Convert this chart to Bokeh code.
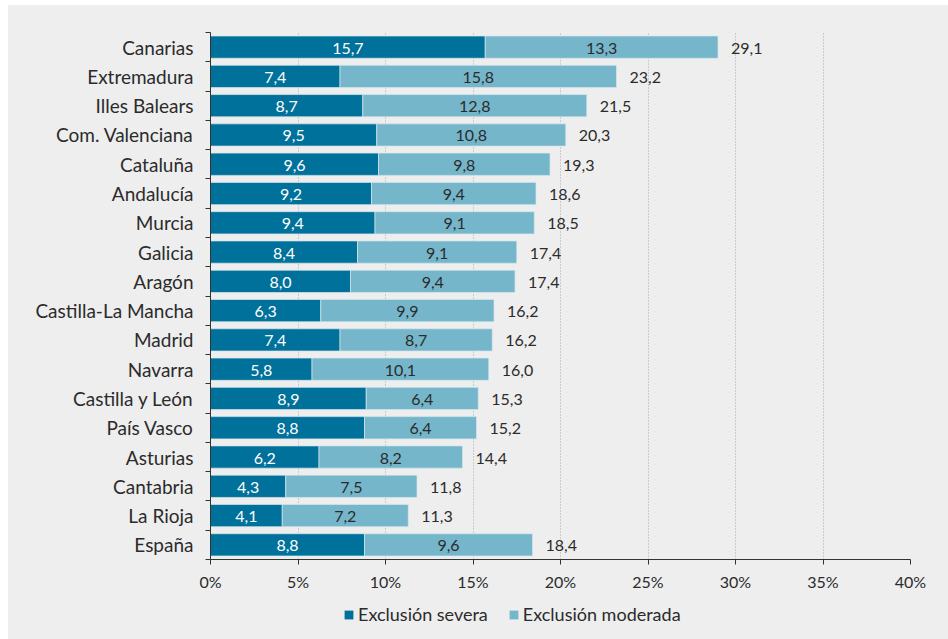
from bokeh.plotting import figure
from bokeh.layouts import column
from bokeh.models import ColumnDataSource, FixedTicker, Legend, LegendItem
from bokeh.core.properties import value
from bokeh.embed import file_html
from bokeh.resources import INLINE

regions = ["Canarias", "Extremadura", "Illes Balears", "Com. Valenciana", "Cataluña",
           "Andalucía", "Murcia", "Galicia", "Aragón", "Castilla-La Mancha", "Madrid",
           "Navarra", "Castilla y León", "País Vasco", "Asturias", "Cantabria",
           "La Rioja", "España"]
severa = [15.7, 7.4, 8.7, 9.5, 9.6, 9.2, 9.4, 8.4, 8.0, 6.3, 7.4, 5.8, 8.9, 8.8, 6.2, 4.3, 4.1, 8.8]
moderada = [13.3, 15.8, 12.8, 10.8, 9.8, 9.4, 9.1, 9.1, 9.4, 9.9, 8.7, 10.1, 6.4, 6.4, 8.2, 7.5, 7.2, 9.6]
total = [29.1, 23.2, 21.5, 20.3, 19.3, 18.6, 18.5, 17.4, 17.4, 16.2, 16.2, 16.0, 15.3, 15.2, 14.4, 11.8, 11.3, 18.4]
x_ticks = [0, 5, 10, 15, 20, 25, 30, 35, 40]
series = ["Exclusión severa", "Exclusión moderada"]

DARK = "#00719a"
LIGHT = "#75b6cb"
TXT = "#2b2b2b"
BG = "#eeeeee"
FONT = "Lato"

n = len(regions)
ypos = [n - i - 0.5 for i in range(n)]
end = [s + m for s, m in zip(severa, moderada)]
fmt = lambda v: f"{v:.1f}".replace(".", ",")

src = ColumnDataSource(dict(
    y=ypos, sev=severa, mod=moderada, end=end,
    sev_mid=[s / 2 for s in severa],
    mod_mid=[s + m / 2 for s, m in zip(severa, moderada)],
    sev_lab=[fmt(v) for v in severa],
    mod_lab=[fmt(v) for v in moderada],
    tot_lab=[fmt(v) for v in total],
))

p = figure(width=940, height=589, x_range=(0, 40), y_range=(0, n),
           output_backend="svg", toolbar_location=None,
           background_fill_color=BG, border_fill_color=BG,
           min_border_left=202, min_border_right=38, min_border_top=27,
           min_border_bottom=35, margin=0)
p.outline_line_color = None

BAR_LINE = "#d6e8ee"
r1 = p.hbar(y="y", left=0, right="sev", height=0.76, source=src,
            fill_color=DARK, line_color=BAR_LINE, line_width=0.7)
r2 = p.hbar(y="y", left="sev", right="end", height=0.76, source=src,
            fill_color=LIGHT, line_color=BAR_LINE, line_width=0.7)

p.text(x="sev_mid", y="y", text="sev_lab", source=src, text_align="center",
       text_baseline="middle", text_color="white", text_font=value(FONT),
       text_font_size="16px", y_offset=1)
p.text(x="mod_mid", y="y", text="mod_lab", source=src, text_align="center",
       text_baseline="middle", text_color=TXT, text_font=value(FONT),
       text_font_size="16px", y_offset=1)
p.text(x="end", y="y", text="tot_lab", source=src, text_align="left",
       text_baseline="middle", text_color=TXT, text_font=value(FONT),
       text_font_size="16px", x_offset=13, y_offset=1)

# x axis
p.xaxis.ticker = FixedTicker(ticks=x_ticks)
p.xaxis.major_label_overrides = {t: f"{t}%" for t in x_ticks}
p.xaxis.major_label_text_font = FONT
p.xaxis.major_label_text_font_size = "16px"
p.xaxis.major_label_text_color = TXT
p.xaxis.axis_line_color = "#333333"
p.xaxis.major_tick_line_color = "#333333"
p.xaxis.major_tick_out = 5
p.xaxis.major_tick_in = 0
p.xaxis.minor_tick_line_color = None
p.xaxis.major_label_standoff = 7

# y axis
p.yaxis.ticker = FixedTicker(ticks=ypos, minor_ticks=list(range(n + 1)))
p.yaxis.major_label_overrides = {y: r for y, r in zip(ypos, regions)}
p.yaxis.major_label_text_font = FONT
p.yaxis.major_label_text_font_size = "19px"
p.yaxis.major_label_text_color = TXT
p.yaxis.axis_line_color = "#333333"
p.yaxis.major_tick_line_color = None
p.yaxis.minor_tick_line_color = "#333333"
p.yaxis.minor_tick_out = 5
p.yaxis.minor_tick_in = 0
p.yaxis.major_label_standoff = 11

p.ygrid.grid_line_color = None
p.xgrid.ticker = FixedTicker(ticks=x_ticks)
p.xgrid.grid_line_color = "#a9a9a9"
p.xgrid.grid_line_dash = "1 2"
p.xgrid.grid_line_width = 1

# legend strip below the chart (frame is aligned with the chart's frame)
lg = figure(width=940, height=45, output_backend="svg", toolbar_location=None,
            x_axis_location=None, y_axis_location=None, min_border=0,
            background_fill_color=BG, border_fill_color=BG, margin=0,
            x_range=(0, 1), y_range=(0, 1))
lg.outline_line_color = None
lg.grid.grid_line_color = None
g1 = lg.hbar(y=[-5], left=[0], right=[0], height=0.5, fill_color=DARK, line_color=None)
g2 = lg.hbar(y=[-5], left=[0], right=[0], height=0.5, fill_color=LIGHT, line_color=None)
legend = Legend(items=[LegendItem(label=series[0], renderers=[g1]),
                       LegendItem(label=series[1], renderers=[g2])],
                orientation="horizontal", location=(133, 14),
                background_fill_alpha=0, border_line_color=None,
                label_text_font=FONT, label_text_font_size="18px",
                label_text_color=TXT, glyph_width=11, glyph_height=11,
                spacing=20, label_standoff=4, padding=0, margin=0)
lg.add_layout(legend)

layout = column(p, lg, spacing=0, margin=(5, 0, 0, 8),
                styles={"background-color": BG})
open("out.html", "w").write(file_html(layout, INLINE))
